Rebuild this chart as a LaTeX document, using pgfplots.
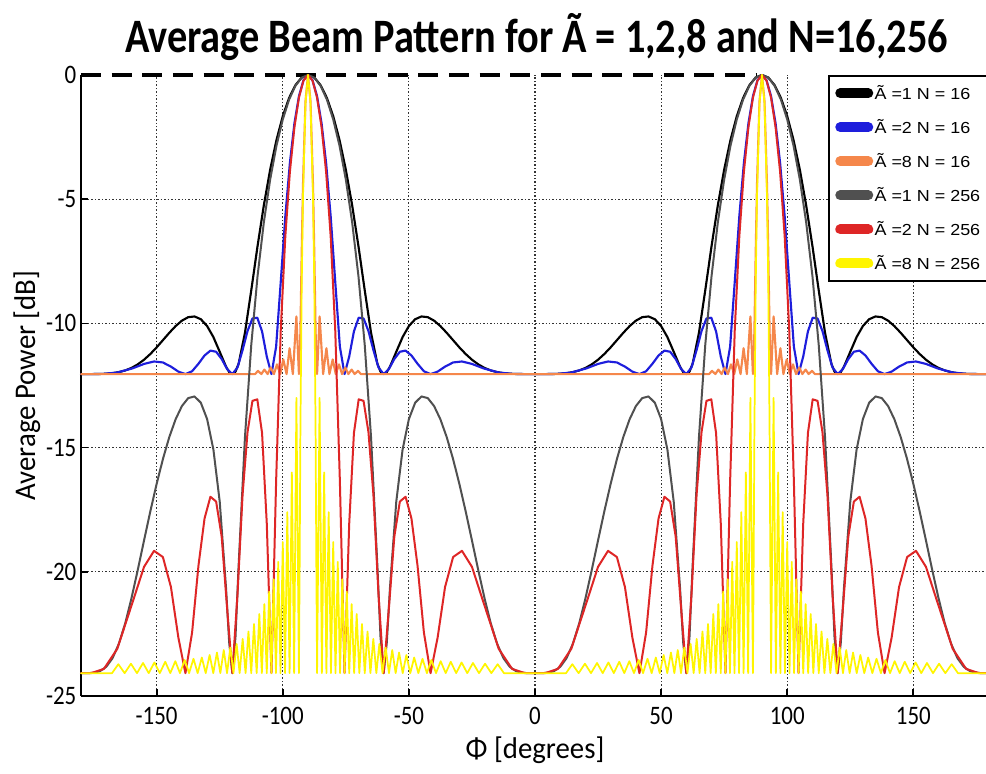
\documentclass[border=0pt]{standalone}
\usepackage{pgfplots}
\pgfplotsset{compat=1.18}
\usepackage{pgfplotstable}
\usepackage{fontspec}
\setmainfont{Carlito}
\newfontfamily\tickfont[FakeStretch=0.86]{Carlito}
\newfontfamily\labfont[FakeStretch=0.96]{Carlito}
\newfontfamily\titfont[FakeStretch=0.84]{Carlito}
\newfontfamily\legfont[FakeStretch=1.12]{Liberation Sans}
\definecolor{cblue}{RGB}{30,30,220}
\definecolor{corange}{RGB}{245,135,75}
\definecolor{cgray}{RGB}{80,80,80}
\definecolor{cred}{RGB}{222,38,38}
\definecolor{cyellow}{RGB}{255,245,0}

% A = 1 : black (N=16) and gray (N=256)
\pgfplotstableread{
xa xb xc xd k g
-90 -90 90 90 0 0
-92.5 -87.5 87.5 92.5 -0.101 -0.107
-95 -85 85 95 -0.409 -0.436
-97.5 -82.5 82.5 97.5 -0.926 -0.991
-100 -80 80 100 -1.661 -1.790
-102.5 -77.5 77.5 102.5 -2.618 -2.848
-105 -75 75 105 -3.810 -4.209
-107.5 -72.5 72.5 107.5 -5.239 -5.926
-110 -70 70 110 -6.887 -8.094
-112.5 -67.5 67.5 112.5 -8.671 -10.875
-115 -65 65 115 -10.384 -14.589
-117.5 -62.5 62.5 117.5 -11.624 -19.741
-118.75 -61.25 61.25 118.75 -11.941 -22.63
-120 -60 60 120 -12.041 -24.082
-121.25 -58.75 58.75 121.25 -11.957 -22.84
-122.5 -57.5 57.5 122.5 -11.743 -20.646
-125 -55 55 125 -11.143 -17.174
-127.5 -52.5 52.5 127.5 -10.553 -15.081
-130 -50 50 130 -10.106 -13.851
-132.5 -47.5 47.5 132.5 -9.831 -13.191
-135 -45 45 135 -9.721 -12.941
-137.5 -42.5 42.5 137.5 -9.750 -13.008
-140 -40 40 140 -9.890 -13.329
-142.5 -37.5 37.5 142.5 -10.110 -13.863
-145 -35 35 145 -10.380 -14.579
-147.5 -32.5 32.5 147.5 -10.672 -15.452
-150 -30 30 150 -10.964 -16.457
-152.5 -27.5 27.5 152.5 -11.231 -17.560
-155 -25 25 155 -11.462 -18.735
-157.5 -22.5 22.5 157.5 -11.650 -19.929
-160 -20 20 160 -11.793 -21.069
-162.5 -17.5 17.5 162.5 -11.894 -22.086
-165 -15 15 165 -11.962 -22.902
-167.5 -12.5 12.5 167.5 -12.003 -23.479
-170 -10 10 170 -12.026 -23.827
-172.5 -7.5 7.5 172.5 -12.036 -24.001
-175 -5 5 175 -12.040 -24.067
-177.5 -2.5 2.5 177.5 -12.041 -24.080
-180 0 0 180 -12.041 -24.082
}\tA

% A = 2 : blue (N=16) and red (N=256)
\pgfplotstableread{
xa xb xc xd b r
-90 -90 90 90 0 0
-91.791 -88.209 88.209 91.791 -0.210 -0.224
-93.583 -86.417 86.417 93.583 -0.849 -0.908
-95.380 -84.620 84.620 95.380 -1.945 -2.101
-97.181 -82.819 82.819 97.181 -3.541 -3.898
-98.989 -81.011 81.011 98.989 -5.685 -6.489
-100.807 -79.193 79.193 100.807 -8.329 -10.286
-102.636 -77.364 77.364 102.636 -10.933 -16.343
-104.478 -75.522 75.522 104.478 -12.041 -24.082
-106.335 -73.665 73.665 106.335 -11.338 -18.073
-108.210 -71.790 71.790 108.210 -10.320 -14.413
-110.105 -69.895 69.895 110.105 -9.772 -13.056
-112.024 -67.976 67.976 112.024 -9.800 -13.119
-113.969 -66.031 66.031 113.969 -10.306 -14.374
-115.944 -64.056 64.056 115.944 -11.078 -16.907
-117.953 -62.047 62.047 117.953 -11.774 -20.910
-120 -60 60 120 -12.041 -24.082
-122.090 -57.910 57.910 122.090 -11.832 -21.439
-124.229 -55.771 55.771 124.229 -11.434 -18.578
-126.423 -53.577 53.577 126.423 -11.142 -17.172
-128.682 -51.318 51.318 128.682 -11.096 -16.978
-131.013 -48.987 48.987 131.013 -11.292 -17.850
-133.433 -46.567 46.567 133.433 -11.625 -19.756
-135.953 -44.047 44.047 135.953 -11.926 -22.446
-138.590 -41.410 41.410 138.590 -12.041 -24.082
-141.375 -38.625 38.625 141.375 -11.943 -22.661
-144.340 -35.660 35.660 144.340 -11.740 -20.613
-147.534 -32.466 32.466 147.534 -11.573 -19.405
-151.045 -28.955 28.955 151.045 -11.533 -19.156
-155.021 -24.979 24.979 155.021 -11.632 -19.804
-159.636 -20.364 20.364 159.636 -11.813 -21.252
-165.635 -14.365 14.365 165.635 -11.977 -23.106
-170.931 -9.069 9.069 170.931 -12.031 -23.910
-175.947 -4.053 4.053 175.947 -12.041 -24.076
-180 0 0 180 -12.041 -24.082
}\tB

% A = 8, N = 16 : orange
\pgfplotstableread{
xa xb xc xd p
-90 -90 90 90 0
-91 -89 89 91 -1.06
-92 -88 88 92 -4.47
-92.5 -87.5 87.5 92.5 -7.18
-93 -87 87 93 -10.23
-93.3 -86.7 86.7 93.3 -11.6
-93.6 -86.4 86.4 93.6 -12.04
-94.6 -85.4 85.4 94.6 -9.72
-96 -84 84 96 -12.04
-97.3 -82.7 82.7 97.3 -11.0
-98.5 -81.5 81.5 98.5 -12.04
-99.8 -80.2 80.2 99.8 -11.45
-101 -79 79 101 -12.04
-102.3 -77.7 77.7 102.3 -11.65
-103.5 -76.5 76.5 103.5 -12.04
-104.8 -75.2 75.2 104.8 -11.78
-106 -74 74 106 -12.04
-107.3 -72.7 72.7 107.3 -11.86
-108.5 -71.5 71.5 108.5 -12.04
-109.8 -70.2 70.2 109.8 -11.91
-111 -69 69 111 -12.04
-180 0 0 180 -12.04
}\tC

% A = 8, N = 256 : yellow
\pgfplotstableread{
xa xb xc xd p
-90 -90 90 90 0
-91 -89 89 91 -1.13
-92 -88 88 92 -4.99
-92.5 -87.5 87.5 92.5 -8.51
-93 -87 87 93 -14.16
-93.3 -86.7 86.7 93.3 -19.56
-93.6 -86.4 86.4 93.6 -24.08
-94.6 -85.4 85.4 94.6 -13.0
-95.5 -84.5 84.5 95.5 -24.08
-96.4 -83.6 83.6 96.4 -16.0
-97.3 -82.7 82.7 97.3 -24.08
-98.2 -81.8 81.8 98.2 -17.6
-99.1 -80.9 80.9 99.1 -24.08
-100 -80 80 100 -18.8
-100.9 -79.1 79.1 100.9 -24.08
-101.8 -78.2 78.2 101.8 -19.6
-102.7 -77.3 77.3 102.7 -24.08
-103.6 -76.4 76.4 103.6 -20.3
-104.5 -75.5 75.5 104.5 -24.08
-105.4 -74.6 74.6 105.4 -20.8
-106.35 -73.65 73.65 106.35 -24.08
-107.3 -72.7 72.7 107.3 -21.3
-108.3 -71.7 71.7 108.3 -24.08
-109.3 -70.7 70.7 109.3 -21.7
-110.35 -69.65 69.65 110.35 -24.08
-111.4 -68.6 68.6 111.4 -22.1
-112.5 -67.5 67.5 112.5 -24.08
-113.6 -66.4 66.4 113.6 -22.4
-114.75 -65.25 65.25 114.75 -24.08
-115.9 -64.1 64.1 115.9 -22.7
-117.1 -62.9 62.9 117.1 -24.08
-118.3 -61.7 61.7 118.3 -22.9
-119.55 -60.45 60.45 119.55 -24.08
-120.8 -59.2 59.2 120.8 -23.05
-122.1 -57.9 57.9 122.1 -24.08
-123.4 -56.6 56.6 123.4 -23.15
-124.75 -55.25 55.25 124.75 -24.08
-126.1 -53.9 53.9 126.1 -23.25
-127.55 -52.45 52.45 127.55 -24.08
-129 -51 51 129 -23.35
-130.55 -49.45 49.45 130.55 -24.08
-132.1 -47.9 47.9 132.1 -23.45
-133.75 -46.25 46.25 133.75 -24.08
-135.4 -44.6 44.6 135.4 -23.5
-137.15 -42.85 42.85 137.15 -24.08
-138.9 -41.1 41.1 138.9 -23.55
-140.75 -39.25 39.25 140.75 -24.08
-142.6 -37.4 37.4 142.6 -23.6
-144.6 -35.4 35.4 144.6 -24.08
-146.6 -33.4 33.4 146.6 -23.62
-148.75 -31.25 31.25 148.75 -24.08
-150.9 -29.1 29.1 150.9 -23.65
-153.15 -26.85 26.85 153.15 -24.08
-155.4 -24.6 24.6 155.4 -23.67
-157.8 -22.2 22.2 157.8 -24.08
-160.2 -19.8 19.8 160.2 -23.7
-162.7 -17.3 17.3 162.7 -24.08
-165.2 -14.8 14.8 165.2 -23.72
-167.7 -12.3 12.3 167.7 -24.08
-180 0 0 180 -24.08
}\tD

\pgfplotsset{
  sK/.style={black,line width=1.6pt,line cap=round,line join=round},
  sB/.style={cblue,line width=1.6pt,line cap=round,line join=round},
  sO/.style={corange,line width=1.6pt,line cap=round,line join=round},
  sG/.style={cgray,line width=1.5pt,line cap=round,line join=round},
  sR/.style={cred,line width=1.5pt,line cap=round,line join=round},
  sY/.style={cyellow,line width=1.3pt,line cap=round,line join=round},
}

\begin{document}
\begin{tikzpicture}
\begin{axis}[
  scale only axis,
  width=681pt, height=465.75pt,
  xmin=-180, xmax=180, ymin=-25, ymax=0,
  axis x line*=bottom, axis y line*=left,
  axis line style={-, line width=1.3pt, black},
  xtick={-150,-100,-50,0,50,100,150},
  xticklabels={-150,-100,-50,0,50,100,150},
  ytick={-20,-15,-10,-5},
  yticklabels={-20,-15,-10,-5},
  extra y ticks={-25,0},
  extra y tick labels={-25,0},
  extra y tick style={grid=none},
  tick align=inside,
  major tick length=5pt,
  every tick/.style={black, line width=1.3pt},
  grid=major,
  major grid style={black!80, line width=0.9pt, dash pattern=on 1.1pt off 1.5pt},
  ticklabel style={font=\tickfont\fontsize{20pt}{23pt}\selectfont},
  xticklabel style={yshift=-5pt},
  xlabel={Φ [degrees]},
  ylabel={Average Power [dB]},
  label style={font=\labfont\fontsize{22.5pt}{27pt}\selectfont},
  xlabel style={at={(axis description cs:0.5,0)}, anchor=center, yshift=-40.5pt},
  ylabel style={at={(axis description cs:-0.0595,0.5)}, anchor=center},
  title={Average Beam Pattern for Ã = 1,2,8 and N=16,256},
  title style={at={(axis description cs:0.5017,1)}, anchor=base, yshift=10.5pt, font=\titfont\bfseries\fontsize{36pt}{40pt}\selectfont},
  clip=false,
  legend cell align=left,
  legend style={
    at={(0.8227,1)}, anchor=north west,
    draw=black, line width=1.3pt, fill=white,
    font=\legfont\fontsize{12pt}{14pt}\selectfont,
    inner xsep=4pt, inner ysep=6pt,
    row sep=11.5pt,
    nodes={inner xsep=1pt, inner ysep=1pt},
  },
  legend image code/.code={
    \draw[#1, line width=7.5pt, line cap=round] (3.75pt,0pt) -- (24.75pt,0pt);
    \path (0pt,0pt) (27pt,0pt);
  },
]
\coordinate (SW) at (rel axis cs:0,0);
\coordinate (NE) at (rel axis cs:1,1);

\addplot[black, line width=2.8pt, dash pattern=on 15pt off 8pt, forget plot] coordinates {(-180,0) (88,0)};

\addplot[sK] table[x=xa,y=k]{\tA}; \addlegendentry{Ã =1 N = 16}
\addplot[sK, forget plot] table[x=xb,y=k]{\tA};
\addplot[sK, forget plot] table[x=xc,y=k]{\tA};
\addplot[sK, forget plot] table[x=xd,y=k]{\tA};

\addplot[sB] table[x=xa,y=b]{\tB}; \addlegendentry{Ã =2 N = 16}
\addplot[sB, forget plot] table[x=xb,y=b]{\tB};
\addplot[sB, forget plot] table[x=xc,y=b]{\tB};
\addplot[sB, forget plot] table[x=xd,y=b]{\tB};

\addplot[sO] table[x=xa,y=p]{\tC}; \addlegendentry{Ã =8 N = 16}
\addplot[sO, forget plot] table[x=xb,y=p]{\tC};
\addplot[sO, forget plot] table[x=xc,y=p]{\tC};
\addplot[sO, forget plot] table[x=xd,y=p]{\tC};

\addplot[sG] table[x=xa,y=g]{\tA}; \addlegendentry{Ã =1 N = 256}
\addplot[sG, forget plot] table[x=xb,y=g]{\tA};
\addplot[sG, forget plot] table[x=xc,y=g]{\tA};
\addplot[sG, forget plot] table[x=xd,y=g]{\tA};

\addplot[sR] table[x=xa,y=r]{\tB}; \addlegendentry{Ã =2 N = 256}
\addplot[sR, forget plot] table[x=xb,y=r]{\tB};
\addplot[sR, forget plot] table[x=xc,y=r]{\tB};
\addplot[sR, forget plot] table[x=xd,y=r]{\tB};

\addplot[sY] table[x=xa,y=p]{\tD}; \addlegendentry{Ã =8 N = 256}
\addplot[sY, forget plot] table[x=xb,y=p]{\tD};
\addplot[sY, forget plot] table[x=xc,y=p]{\tD};
\addplot[sY, forget plot] table[x=xd,y=p]{\tD};
\end{axis}
\pgfresetboundingbox
\path[use as bounding box] ([xshift=-60.75pt,yshift=-58.5pt]SW) rectangle ([xshift=-2.25pt,yshift=56.25pt]NE);
\end{tikzpicture}
\end{document}
